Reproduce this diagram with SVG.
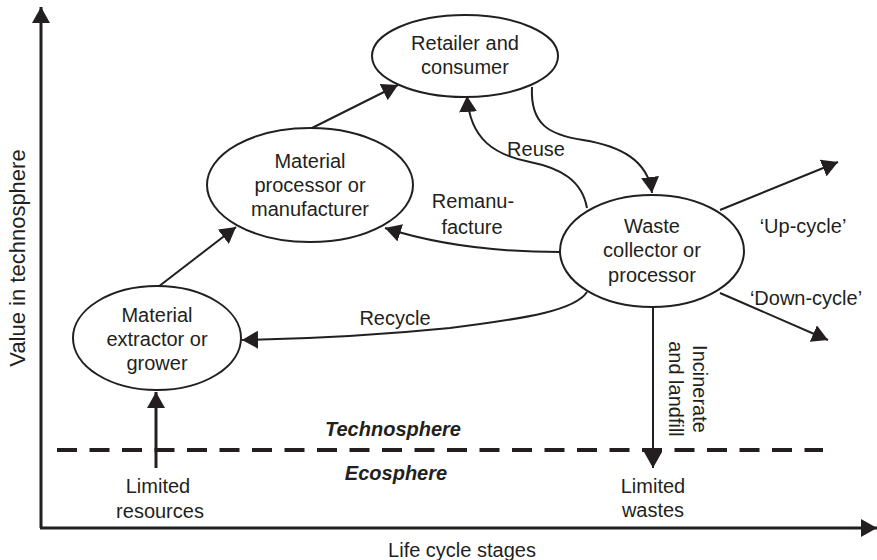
<svg xmlns="http://www.w3.org/2000/svg" width="877" height="560" viewBox="0 0 877 560">
<style>
text{font-family:"Liberation Sans",Arial,sans-serif;font-size:20px;fill:#231f20;text-anchor:middle}
.node ellipse{fill:#fff;stroke:#231f20;stroke-width:2}
.c{fill:none;stroke:#231f20;stroke-width:2}
.bi{font-weight:bold;font-style:italic}
</style>
<defs>
<marker id="ah" viewBox="0 0 16 18" refX="16" refY="9" markerWidth="16" markerHeight="18" markerUnits="userSpaceOnUse" orient="auto"><path d="M0,0 L16,9 L0,18 z" fill="#231f20"/></marker>
</defs>
<rect width="877" height="560" fill="#fff"/>
<g id="axes">
<path class="c" style="stroke-width:3" d="M41,528 L41,7" marker-end="url(#ah)"/>
<path class="c" style="stroke-width:3" d="M40,528 L877,528" marker-end="url(#ah)"/>
<text transform="translate(25,258) rotate(-90)" style="font-size:22px">Value in technosphere</text>
<text x="462" y="557">Life cycle stages</text>
</g>
<g id="boundary">
<line x1="57" y1="450" x2="823" y2="450" stroke="#231f20" stroke-width="4" stroke-dasharray="20 12.5"/>
<text class="bi" x="393" y="436">Technosphere</text>
<text class="bi" x="396" y="480">Ecosphere</text>
</g>
<g id="connectors">
<path class="c" d="M158,287 L236,227" marker-end="url(#ah)"/>
<path class="c" d="M312,128 L398,85" marker-end="url(#ah)"/>
<path class="c" d="M532,87 C530,125 550,135 583,140 C620,146 648,160 652,193" marker-end="url(#ah)"/>
<path class="c" d="M587,208 C582,180 560,168 530,162 C495,155 470,140 467,96" marker-end="url(#ah)"/>
<path class="c" d="M560,252 Q460,252 385,228" marker-end="url(#ah)"/>
<path class="c" d="M587,292 C575,310 530,318 450,328 C380,335 300,339 242,340" marker-end="url(#ah)"/>
<path class="c" d="M720,210 L838,162" marker-end="url(#ah)"/>
<path class="c" d="M720,293 L828,340" marker-end="url(#ah)"/>
<path class="c" d="M653,307 L653,468" marker-end="url(#ah)"/>
<path class="c" style="stroke-width:3" d="M156,468 L156,392" marker-end="url(#ah)"/>
<text x="536" y="156">Reuse</text>
<text x="473" y="208">Remanu-</text>
<text x="472" y="234">facture</text>
<text x="395" y="325">Recycle</text>
<text x="803" y="233">‘Up-cycle’</text>
<text x="806" y="305">‘Down-cycle’</text>
<text transform="translate(693,389) rotate(90)">Incinerate</text>
<text transform="translate(669,389) rotate(90)">and landfill</text>
</g>
<g id="retailer" class="node">
<ellipse cx="465" cy="56" rx="93" ry="41"/>
<text x="465" y="50">Retailer and</text>
<text x="465" y="74">consumer</text>
</g>
<g id="processor" class="node">
<ellipse cx="310" cy="185" rx="103" ry="57"/>
<text x="310" y="168">Material</text>
<text x="310" y="192">processor or</text>
<text x="310" y="216">manufacturer</text>
</g>
<g id="extractor" class="node">
<ellipse cx="157" cy="338" rx="84" ry="52"/>
<text x="157" y="322">Material</text>
<text x="157" y="346">extractor or</text>
<text x="157" y="370">grower</text>
</g>
<g id="waste" class="node">
<ellipse cx="652" cy="251" rx="92" ry="56"/>
<text x="652" y="233">Waste</text>
<text x="652" y="257">collector or</text>
<text x="652" y="282">processor</text>
</g>
<g id="resources">
<text x="158" y="493">Limited</text>
<text x="160" y="518">resources</text>
</g>
<g id="wastes">
<text x="653" y="493">Limited</text>
<text x="653" y="517">wastes</text>
</g>
</svg>
